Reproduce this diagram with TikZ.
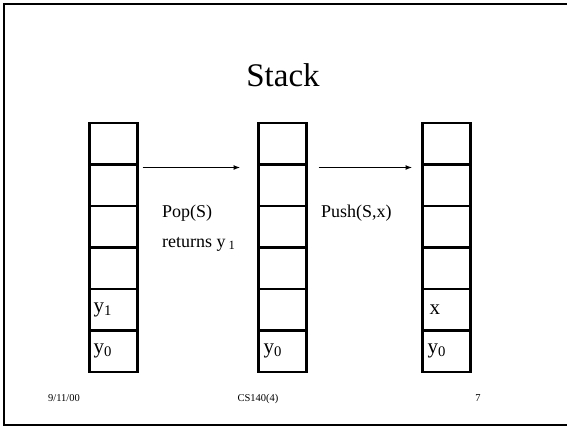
\documentclass[tikz,border=0pt]{standalone}
\usepackage{fontspec}
\setmainfont{Liberation Serif}
\usetikzlibrary{positioning,arrows.meta}

\begin{document}
\begin{tikzpicture}[x=1pt,y=-1pt,
   cell/.style={draw,line width=2.2pt,minimum width=48pt,minimum height=41.5pt,inner sep=0pt,outer sep=0pt},
   tag/.style={anchor=west,inner sep=0pt,font=\fontsize{21}{24}\selectfont},
   op/.style={anchor=west,align=left,inner sep=0pt,font=\fontsize{18}{30}\selectfont},
   foot/.style={anchor=base,inner sep=0pt,font=\fontsize{10.5}{12}\selectfont},
   arr/.style={line width=1.5pt,-{Latex[length=7pt,width=5pt]}}]
  \useasboundingbox (0,0) rectangle (567,426);
  % slide frame, open on the right
  \draw[line width=2.2pt] (567,4) -- (4,4) -- (4,425) -- (567,425);
  \node[font=\fontsize{33}{36}\selectfont] (title) at (283,75) {Stack};
  % three stacks of six slots, slot 0 at the bottom
  \foreach \s/\cx in {a/113.5,b/282.5,c/446.5}
    \foreach \k in {0,...,5}
      \node[cell] (\s\k) at (\cx,{372-41.5*(\k+0.5)}) {};
  \node[tag] (ay1) at ([xshift=4pt]a1.west) {y\textsubscript{1}};
  \node[tag] (ay0) at ([xshift=4pt]a0.west) {y\textsubscript{0}};
  \node[tag] (by0) at ([xshift=5pt]b0.west) {y\textsubscript{0}};
  \node[tag] (cx1) at ([xshift=7pt]c1.west) {x};
  \node[tag] (cy0) at ([xshift=5pt]c0.west) {y\textsubscript{0}};
  % operations
  \draw[arr] ([xshift=5pt,yshift=-3pt]a4.north east) -- ([xshift=-18pt,yshift=-3pt]b4.north west);
  \draw[arr] ([xshift=12pt,yshift=-3pt]b4.north east) -- ([xshift=-10pt,yshift=-3pt]c4.north west);
  \node[op] (pop) at (162,228) {Pop(S)\\returns y\,\textsubscript{1}};
  \node[op] (push) at (321,213) {Push(S,x)};
  % footer
  \node[foot] (date) at (64,401) {9/11/00};
  \node[foot] (course) at (258,401) {CS140(4)};
  \node[foot] (page) at (478,401) {7};
\end{tikzpicture}
\end{document}
